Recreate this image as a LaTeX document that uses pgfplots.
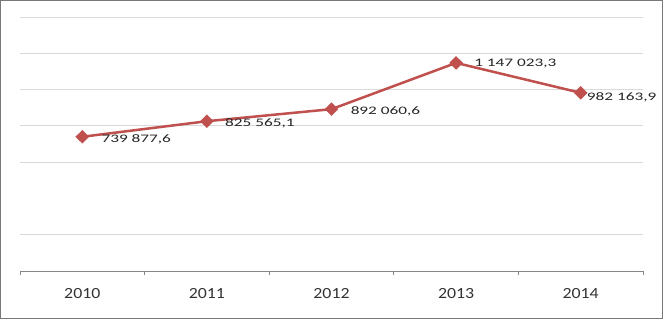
\documentclass[border=0pt]{standalone}
\usepackage{pgfplots}
\usepackage{pgfplotstable}
\pgfplotsset{compat=1.18}
\usepackage{fontspec}
\setmainfont{Carlito}
\definecolor{exred}{RGB}{192,80,77}
\definecolor{gridgray}{RGB}{217,217,217}
\definecolor{axisgray}{RGB}{134,134,134}
\definecolor{framegray}{RGB}{120,120,120}
\pgfplotstableread[col sep=semicolon]{
x;y;dx;dy;label
0;739877.6;18;-2.5;739 877,6
1;825565.1;17;-2;825 565,1
2;892060.6;18;-2.5;892 060,6
3;1147023.3;17;-0.7;1 147 023,3
4;982163.9;5;-4.5;982 163,9
}\datatable
\begin{document}
\begin{tikzpicture}
\begin{axis}[name=ax, scale only axis, width=623pt, height=254pt,
  xmin=-0.5, xmax=4.5, ymin=0, ymax=1400000,
  scaled y ticks=false,
  axis x line*=bottom,
  x axis line style={-, draw=axisgray, line width=0.9pt},
  y axis line style={draw=none},
  xtick={-0.5,0.5,1.5,2.5,3.5,4.5}, xticklabels={},
  xtick style={draw=axisgray, line width=0.9pt},
  tick align=outside, major tick length=4pt,
  extra x ticks={0,1,2,3,4},
  extra x tick labels={2010,2011,2012,2013,2014},
  extra x tick style={major tick length=0pt, grid=none,
    tick label style={yshift=-14pt, text=black!80, font=\fontsize{15.5}{16}\selectfont, xscale=1.15}},
  ytick={200000,600000,800000,1000000,1200000,1400000},
  yticklabels={}, ytick style={draw=none},
  ymajorgrids, grid style={gridgray, line width=0.9pt},
  clip=false]
\addplot[exred, line width=2.5pt, mark=diamond*, mark size=5pt,
  mark options={solid, fill=exred, xscale=1.35},
  nodes near coords={\scalebox{1.5}[1]{\pgfplotspointmeta}},
  point meta=explicit symbolic,
  visualization depends on={\thisrow{dx}\as\dx},
  visualization depends on={\thisrow{dy}\as\dy},
  every node near coord/.append style={anchor=west, inner sep=0pt,
    xshift=\dx pt, yshift=\dy pt, text=black!85,
    font=\fontsize{11.5}{12}\selectfont}]
  table[x=x, y=y, meta=label] {\datatable};
\end{axis}
\draw[framegray, line width=1.5pt]
  ([xshift=-19.25pt, yshift=-47.25pt]ax.south west) rectangle
  ([xshift=19.25pt, yshift=16.25pt]ax.north east);
\end{tikzpicture}
\end{document}
